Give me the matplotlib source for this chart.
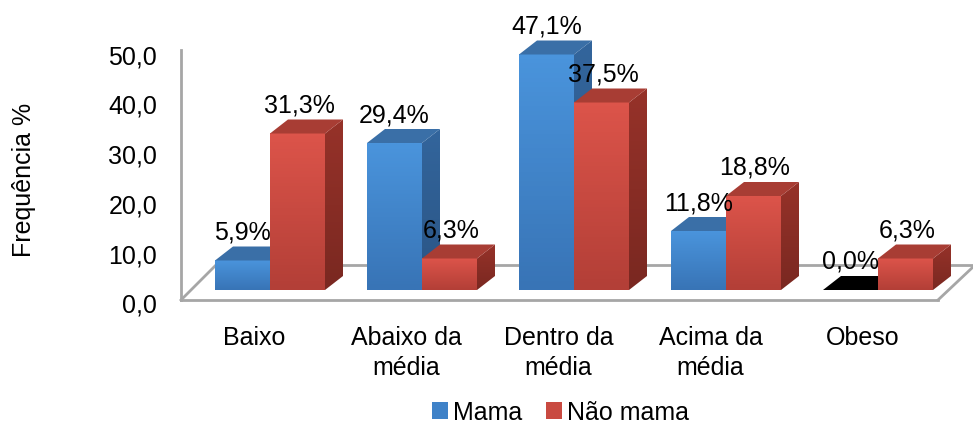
import numpy as np
import matplotlib.pyplot as plt
from matplotlib.patches import Polygon, Patch
from matplotlib.colors import LinearSegmentedColormap

plt.rcParams['font.family'] = ['Liberation Sans', 'DejaVu Sans']

categorias = ['Baixo', 'Abaixo da\nmédia', 'Dentro da\nmédia', 'Acima da\nmédia', 'Obeso']
mama = [5.9, 29.4, 47.1, 11.8, 0.0]
nao_mama = [31.3, 6.3, 37.5, 18.8, 6.3]
rotulos_mama = ['5,9%', '29,4%', '47,1%', '11,8%', '0,0%']
rotulos_nao = ['31,3%', '6,3%', '37,5%', '18,8%', '6,3%']
yticks = [0, 10, 20, 30, 40, 50]
ytick_labels = ['0,0', '10,0', '20,0', '30,0', '40,0', '50,0']

# escala: 1 categoria = 152 px, 1 unidade = 5 px
PX = 152.0
PY = 5.0
larg = 55 / PX
dx = 18 / PX
dy = 14 / PY

cores = {
    'mama': dict(front=('#4a94dc', '#3874b6'), top='#3a6fa7', side=('#33659c', '#2a5585')),
    'nao': dict(front=('#dc544a', '#b33f37'), top='#a83d34', side=('#963229', '#7a2821')),
}

fig = plt.figure(figsize=(9.73, 4.27), dpi=100)
ax = fig.add_axes([0, 0, 1, 1])
ax.axis('off')
xmin, xmax = -215 / PX, (973 - 215) / PX
ymin, ymax = -(427 - 291) / PY, 291 / PY


def barra3d(x0, v, c, cor_topo=None):
    # face frontal com gradiente
    cm = LinearSegmentedColormap.from_list('g', [c['front'][1], c['front'][0]])
    if v > 0:
        grad = np.linspace(0, 1, 50).reshape(-1, 1)
        ax.imshow(grad, cmap=cm, origin='lower', aspect='auto',
                  extent=[x0, x0 + larg, 0, v], zorder=3)
        cm2 = LinearSegmentedColormap.from_list('s', [c['side'][1], c['side'][0]])
        lado = Polygon([(x0 + larg, 0), (x0 + larg + dx, dy), (x0 + larg + dx, v + dy),
                        (x0 + larg, v)], closed=True, facecolor='none', edgecolor='none', zorder=3)
        ax.add_patch(lado)
        im = ax.imshow(grad, cmap=cm2, origin='lower', aspect='auto',
                       extent=[x0 + larg, x0 + larg + dx, 0, v + dy], zorder=3)
        im.set_clip_path(lado)
    topo = Polygon([(x0, v), (x0 + dx, v + dy), (x0 + larg + dx, v + dy), (x0 + larg, v)],
                   closed=True, facecolor=cor_topo or c['top'], edgecolor='none', zorder=3)
    ax.add_patch(topo)


# chao e parede
cinza = '#a6a6a6'
fy = -10 / PY
by = 25 / PY
ax.plot([-34 / PX, -34 / PX], [fy, 240 / PY], color=cinza, lw=2, zorder=1)
ax.plot([-34 / PX, 723 / PX], [fy, fy], color=cinza, lw=2, zorder=1)
ax.plot([-34 / PX, 1 / PX], [fy, by], color=cinza, lw=2, zorder=1)
ax.plot([1 / PX, 758 / PX], [by, by], color=cinza, lw=2, zorder=1)
ax.plot([723 / PX, 758 / PX], [fy, by - 0.4], color=cinza, lw=2, zorder=1)

fs = 18
for i in range(len(categorias)):
    xm = i
    xn = i + larg
    barra3d(xm, mama[i], cores['mama'], cor_topo='#000000' if mama[i] == 0 else None)
    barra3d(xn, nao_mama[i], cores['nao'])
    ax.text(xm + larg / 2, mama[i] + dy + 3.0, rotulos_mama[i], ha='center', va='center',
            fontsize=fs, zorder=5)
    ax.text(xn + larg / 2 + 0.01, nao_mama[i] + dy + 3.0, rotulos_nao[i], ha='center',
            va='center', fontsize=fs, zorder=5)
    ax.text(i + 0.26, -7.0, categorias[i], ha='center', va='top', fontsize=fs,
            linespacing=1.3, multialignment='center')

for t, lab in zip(yticks, ytick_labels):
    ax.text(-58 / PX, -3.0 + 0.996 * t, lab, ha='right', va='center', fontsize=fs)

ax.text(-191 / PX, (291 - 180) / PY, 'Frequência %', rotation=90, ha='center',
        va='center', fontsize=fs)

ax.set_xlim(xmin, xmax)
ax.set_ylim(ymin, ymax)

handles = [Patch(facecolor='#3f82c8', label='Mama'), Patch(facecolor='#c94a41', label='Não mama')]
fig.legend(handles=handles, loc='center', bbox_to_anchor=(0.576, 0.032), ncol=2,
           frameon=False, fontsize=fs, handlelength=0.65, handleheight=0.65,
           handletextpad=0.2, columnspacing=0.95)

fig.savefig('out.png', dpi=100)
